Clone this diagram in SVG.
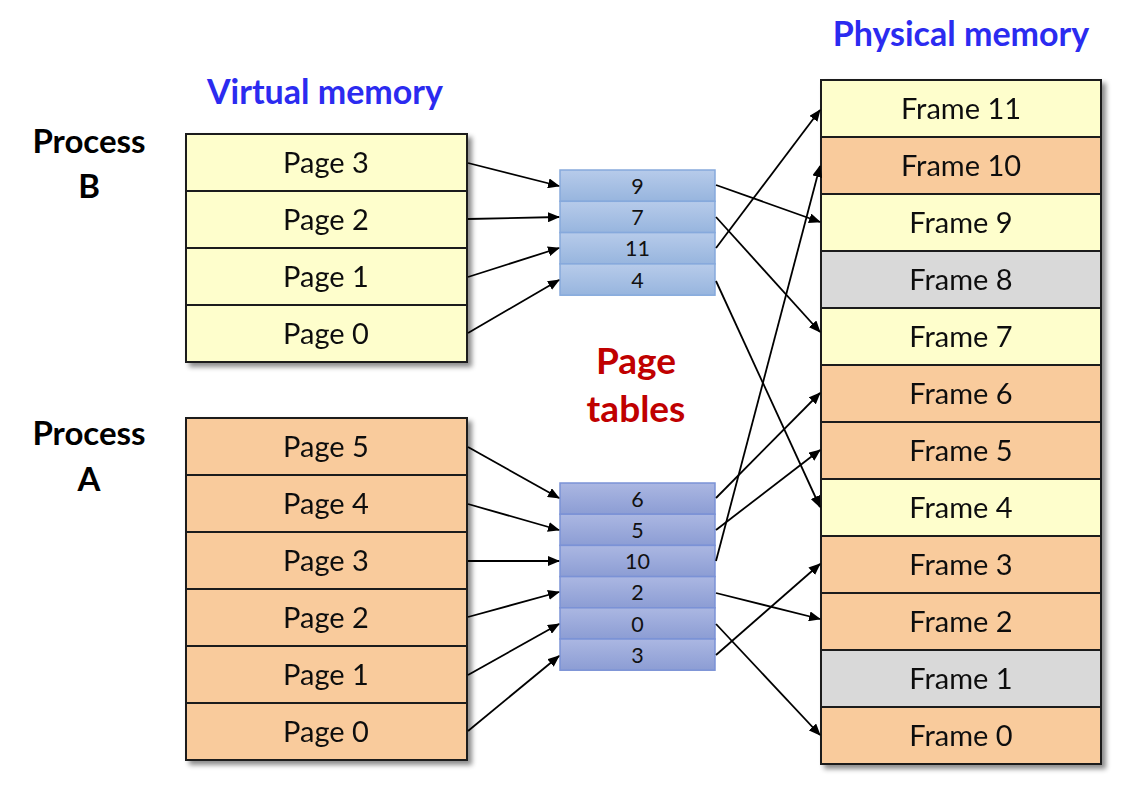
<svg xmlns="http://www.w3.org/2000/svg" width="1136" height="798" viewBox="0 0 1136 798">
<defs>
<style>
.title{font-family:Lato,"Open Sans","Liberation Sans",sans-serif;font-weight:bold;font-size:34px;fill:#2b2bf0;text-anchor:middle;}
.proc{font-family:Lato,"Open Sans","Liberation Sans",sans-serif;font-weight:bold;font-size:33px;fill:#000;text-anchor:middle;}
.pt{font-family:Lato,"Open Sans","Liberation Sans",sans-serif;font-weight:bold;font-size:37px;fill:#c00000;text-anchor:middle;}
.cell{stroke:#1a1a1a;stroke-width:2;}
.y{fill:#fefecc;}
.o{fill:#f9cb9c;}
.g{fill:#d9d9d9;}
.lbl{font-family:Lato,"Open Sans","Liberation Sans",sans-serif;font-size:29px;fill:#111;text-anchor:middle;dominant-baseline:central;}
.num{font-family:Lato,"Open Sans","Liberation Sans",sans-serif;font-size:21.5px;fill:#111;text-anchor:middle;dominant-baseline:central;}
.ptb{fill:url(#gb);stroke:#86a9dc;stroke-width:1.5;}
.pta{fill:url(#ga);stroke:#7b92d6;stroke-width:1.5;}
.c line{stroke:#000;stroke-width:1.8;marker-end:url(#ah);}
</style>
<linearGradient id="gb" x1="0" y1="0" x2="0" y2="1"><stop offset="0" stop-color="#b7cbea"/><stop offset="1" stop-color="#97b5de"/></linearGradient>
<linearGradient id="ga" x1="0" y1="0" x2="0" y2="1"><stop offset="0" stop-color="#abb7e2"/><stop offset="1" stop-color="#8c9dd4"/></linearGradient>
<filter id="sh" x="-10%" y="-10%" width="130%" height="130%"><feDropShadow dx="4" dy="4" stdDeviation="2.5" flood-color="#000" flood-opacity="0.45"/></filter>
<marker id="ah" viewBox="0 0 12 10" refX="11" refY="5" markerWidth="12" markerHeight="10" markerUnits="userSpaceOnUse" orient="auto"><path d="M0,0 L12,5 L0,10 z" fill="#000"/></marker>
</defs>
<rect width="1136" height="798" fill="#fff"/>

<text class="title" x="961" y="46">Physical memory</text>
<text class="title" x="325" y="104">Virtual memory</text>
<text class="proc" x="89" y="153">Process</text>
<text class="proc" x="89" y="198">B</text>
<text class="proc" x="89" y="445">Process</text>
<text class="proc" x="89" y="491">A</text>
<text class="pt" x="636" y="374">Page</text>
<text class="pt" x="636" y="422">tables</text>

<!-- Process B virtual memory -->
<g id="vmB" filter="url(#sh)">
<g id="vmB-p3"><rect class="cell y" x="186" y="134" width="281" height="57"/><text class="lbl" x="326" y="161.5">Page 3</text></g>
<g id="vmB-p2"><rect class="cell y" x="186" y="191" width="281" height="57"/><text class="lbl" x="326" y="218.5">Page 2</text></g>
<g id="vmB-p1"><rect class="cell y" x="186" y="248" width="281" height="57"/><text class="lbl" x="326" y="275.5">Page 1</text></g>
<g id="vmB-p0"><rect class="cell y" x="186" y="305" width="281" height="57"/><text class="lbl" x="326" y="332.5">Page 0</text></g>
</g>

<!-- Process A virtual memory -->
<g id="vmA" filter="url(#sh)">
<g id="vmA-p5"><rect class="cell o" x="186" y="418" width="281" height="57"/><text class="lbl" x="326" y="445.5">Page 5</text></g>
<g id="vmA-p4"><rect class="cell o" x="186" y="475" width="281" height="57"/><text class="lbl" x="326" y="502.5">Page 4</text></g>
<g id="vmA-p3"><rect class="cell o" x="186" y="532" width="281" height="57"/><text class="lbl" x="326" y="559.5">Page 3</text></g>
<g id="vmA-p2"><rect class="cell o" x="186" y="589" width="281" height="57"/><text class="lbl" x="326" y="616.5">Page 2</text></g>
<g id="vmA-p1"><rect class="cell o" x="186" y="646" width="281" height="57"/><text class="lbl" x="326" y="673.5">Page 1</text></g>
<g id="vmA-p0"><rect class="cell o" x="186" y="703" width="281" height="57"/><text class="lbl" x="326" y="730.5">Page 0</text></g>
</g>

<!-- Page table B -->
<g id="ptB">
<g id="ptB-0"><rect class="ptb" x="560" y="170" width="155" height="31.3"/><text class="num" x="637.5" y="185.5">9</text></g>
<g id="ptB-1"><rect class="ptb" x="560" y="201.3" width="155" height="31.3"/><text class="num" x="637.5" y="216.5">7</text></g>
<g id="ptB-2"><rect class="ptb" x="560" y="232.6" width="155" height="31.3"/><text class="num" x="637.5" y="248">11</text></g>
<g id="ptB-3"><rect class="ptb" x="560" y="263.9" width="155" height="31.3"/><text class="num" x="637.5" y="279.5">4</text></g>
</g>

<!-- Page table A -->
<g id="ptA">
<g id="ptA-0"><rect class="pta" x="560" y="483" width="155" height="31.2"/><text class="num" x="637.5" y="498.5">6</text></g>
<g id="ptA-1"><rect class="pta" x="560" y="514.2" width="155" height="31.2"/><text class="num" x="637.5" y="529.5">5</text></g>
<g id="ptA-2"><rect class="pta" x="560" y="545.4" width="155" height="31.2"/><text class="num" x="637.5" y="561">10</text></g>
<g id="ptA-3"><rect class="pta" x="560" y="576.6" width="155" height="31.2"/><text class="num" x="637.5" y="592">2</text></g>
<g id="ptA-4"><rect class="pta" x="560" y="607.8" width="155" height="31.2"/><text class="num" x="637.5" y="623.5">0</text></g>
<g id="ptA-5"><rect class="pta" x="560" y="639" width="155" height="31.2"/><text class="num" x="637.5" y="654.5">3</text></g>
</g>

<!-- Physical memory -->
<g id="pm" filter="url(#sh)">
<g id="f11"><rect class="cell y" x="821" y="80" width="280" height="57"/><text class="lbl" x="961" y="107.5">Frame 11</text></g>
<g id="f10"><rect class="cell o" x="821" y="137" width="280" height="57"/><text class="lbl" x="961" y="164.5">Frame 10</text></g>
<g id="f9"><rect class="cell y" x="821" y="194" width="280" height="57"/><text class="lbl" x="961" y="221.5">Frame 9</text></g>
<g id="f8"><rect class="cell g" x="821" y="251" width="280" height="57"/><text class="lbl" x="961" y="278.5">Frame 8</text></g>
<g id="f7"><rect class="cell y" x="821" y="308" width="280" height="57"/><text class="lbl" x="961" y="335.5">Frame 7</text></g>
<g id="f6"><rect class="cell o" x="821" y="365" width="280" height="57"/><text class="lbl" x="961" y="392.5">Frame 6</text></g>
<g id="f5"><rect class="cell o" x="821" y="422" width="280" height="57"/><text class="lbl" x="961" y="449.5">Frame 5</text></g>
<g id="f4"><rect class="cell y" x="821" y="479" width="280" height="57"/><text class="lbl" x="961" y="506.5">Frame 4</text></g>
<g id="f3"><rect class="cell o" x="821" y="536" width="280" height="57"/><text class="lbl" x="961" y="563.5">Frame 3</text></g>
<g id="f2"><rect class="cell o" x="821" y="593" width="280" height="57"/><text class="lbl" x="961" y="620.5">Frame 2</text></g>
<g id="f1"><rect class="cell g" x="821" y="650" width="280" height="57"/><text class="lbl" x="961" y="677.5">Frame 1</text></g>
<g id="f0"><rect class="cell o" x="821" y="707" width="280" height="57"/><text class="lbl" x="961" y="734.5">Frame 0</text></g>
</g>

<!-- Connectors -->
<g id="connectors" class="c">
<line x1="468" y1="163" x2="559" y2="186"/>
<line x1="468" y1="219" x2="559" y2="217"/>
<line x1="468" y1="277" x2="559" y2="248"/>
<line x1="468" y1="333" x2="559" y2="280"/>
<line x1="716" y1="185" x2="820" y2="222"/>
<line x1="716" y1="217" x2="820" y2="332"/>
<line x1="716" y1="248" x2="820" y2="110"/>
<line x1="716" y1="281" x2="820" y2="507"/>
<line x1="468" y1="447" x2="559" y2="498"/>
<line x1="468" y1="504" x2="559" y2="530"/>
<line x1="468" y1="561" x2="559" y2="561"/>
<line x1="468" y1="617" x2="559" y2="592"/>
<line x1="468" y1="675" x2="559" y2="624"/>
<line x1="468" y1="731" x2="559" y2="656"/>
<line x1="716" y1="498" x2="820" y2="393"/>
<line x1="716" y1="530" x2="820" y2="450"/>
<line x1="716" y1="561" x2="820" y2="166"/>
<line x1="716" y1="593" x2="820" y2="619"/>
<line x1="716" y1="624" x2="820" y2="735"/>
<line x1="716" y1="655" x2="820" y2="564"/>
</g>
</svg>
